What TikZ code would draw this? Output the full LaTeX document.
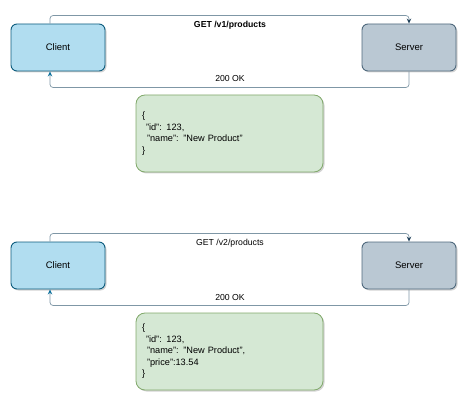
\documentclass[tikz,border=0pt]{standalone}
\usepackage{fontspec}
\setmainfont{Liberation Sans}
\usepackage{xcolor}
\usetikzlibrary{positioning,arrows.meta,shadows}

\definecolor{clientfill}{HTML}{B1DDF0}
\definecolor{clientline}{HTML}{10739E}
\definecolor{serverfill}{HTML}{BAC8D3}
\definecolor{serverline}{HTML}{23445D}
\definecolor{jsonfill}{HTML}{D5E8D4}
\definecolor{jsonline}{HTML}{82B366}
\definecolor{edgeline}{HTML}{7F97A6}

\tikzset{
  boxbase/.style={rounded corners=6pt, line width=0.9pt, minimum width=94pt, minimum height=47pt,
    font=\fontsize{9.5}{11}\selectfont,
    drop shadow={opacity=0.35, shadow xshift=1.5pt, shadow yshift=-1.5pt}},
  clientbox/.style={boxbase, draw=clientline!80!black, fill=clientfill},
  serverbox/.style={boxbase, draw=serverline!80, fill=serverfill},
  jsonbox/.style={rounded corners=9pt, line width=0.8pt, draw=jsonline!80!gray, fill=jsonfill,
    minimum width=187pt, minimum height=77pt, text width=175pt, align=left,
    font=\fontsize{9.2}{11.5}\selectfont,
    drop shadow={opacity=0.35, shadow xshift=1.5pt, shadow yshift=-1.5pt}},
  req/.style={draw=edgeline, line width=0.7pt, rounded corners=3pt, -{Stealth[length=5pt,width=4.5pt,color=serverline]}},
  resp/.style={draw=edgeline, line width=0.7pt, rounded corners=3pt, -{Stealth[length=5pt,width=4.5pt,color=clientline]}},
  msg/.style={font=\fontsize{8.7}{10}\selectfont}
}

\begin{document}
\begin{tikzpicture}[x=1pt,y=-1pt]
\useasboundingbox (0,0) rectangle (474,409);

% Version 1
\node[clientbox] (client1) at (58,47.5) {Client};
\node[serverbox] (server1) at (409,47.5) {Server};
\node[jsonbox] (json1) at (229.5,133.5) {\{\\
\hspace*{4pt}"id": 123,\\
\hspace*{5pt}"name": "New Product"\\
\}};

\draw[req] ([xshift=-8pt]client1.north) -- ++(0,-8) -| (server1.north);
\draw[resp] (server1.south) -- ++(0,16) -| ([xshift=-8pt]client1.south);
\node[msg, font=\fontsize{8.7}{10}\selectfont\bfseries] (get1) at (230,25) {GET /v1/products};
\node[msg] (ok1) at (230,79) {200 OK};

% Version 2
\node[clientbox] (client2) at (58,265.5) {Client};
\node[serverbox] (server2) at (409,265.5) {Server};
\node[jsonbox] (json2) at (229.5,351.5) {\{\\
\hspace*{4pt}"id": 123,\\
\hspace*{5pt}"name": "New Product",\\
\hspace*{5pt}"price":13.54\\
\}};

\draw[req] ([xshift=-8pt]client2.north) -- ++(0,-8) -| (server2.north);
\draw[resp] (server2.south) -- ++(0,16) -| ([xshift=-8pt]client2.south);
\node[msg] (get2) at (230,243) {GET /v2/products};
\node[msg] (ok2) at (230,298) {200 OK};

\end{tikzpicture}
\end{document}
